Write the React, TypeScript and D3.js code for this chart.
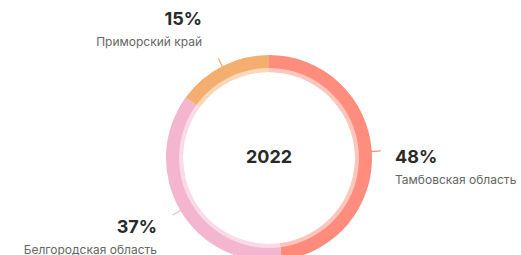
import React from 'react';
import * as d3 from 'd3';

const regions = ['Тамбовская область', 'Белгородская область', 'Приморский край'];
const shares = [48, 37, 15];
const sliceColors = ['url(#redGrad)', '#f4b5cf', '#f4ae6f'];
const tickColors = ['#fd8b7b', '#f4b5cf', '#f4ae6f'];
const centerLabel = '2022';

const W = 521;
const H = 255;
const cx = 269;
const cy = 158;
const outerR = 103;
const innerR = 86;

// label anchor spots, per slice (percent x/y, anchor)
const labelPos = [
  { x: 395, y: 163, anchor: 'start' },
  { x: 157, y: 233, anchor: 'end' },
  { x: 202, y: 25, anchor: 'end' },
];

const App = () => {
  const pie = d3.pie<number>().sort(null).value((d) => d);
  const arcs = pie(shares);
  const arc = d3.arc<d3.PieArcDatum<number>>().innerRadius(innerR).outerRadius(outerR);
  const glow = d3.arc<d3.PieArcDatum<number>>().innerRadius(innerR).outerRadius(innerR + 4);

  return (
    <svg width={W} height={H} style={{ position: 'absolute', left: 0, top: 0 }}>
      <defs>
        <linearGradient id="redGrad" gradientUnits="userSpaceOnUse" x1={0} y1={cy - outerR} x2={0} y2={cy + outerR}>
          <stop offset="0" stopColor="#fe8d7d" />
          <stop offset="0.55" stopColor="#fb8575" />
          <stop offset="1" stopColor="#e9655a" />
        </linearGradient>
      </defs>
      <rect width={W} height={H} fill="#fff" />
      <g transform={`translate(${cx},${cy})`}>
        {arcs.map((a, i) => (
          <path key={i} d={arc(a) || ''} fill={sliceColors[i]} />
        ))}
        {arcs.map((a, i) => (
          <path key={'g' + i} d={glow(a) || ''} fill="#fff" opacity={0.5} />
        ))}
        {arcs.map((a, i) => {
          const m = (a.startAngle + a.endAngle) / 2;
          const s = Math.sin(m);
          const c = -Math.cos(m);
          return (
            <line
              key={'t' + i}
              x1={s * (outerR - 1)}
              y1={c * (outerR - 1)}
              x2={s * (outerR + 9)}
              y2={c * (outerR + 9)}
              stroke={tickColors[i]}
              strokeWidth={1.2}
            />
          );
        })}
        <text
          x={0}
          y={5}
          textAnchor="middle"
          fontFamily="Inter, sans-serif"
          fontWeight={700}
          fontSize={18}
          fill="#2a2a2a"
        >
          {centerLabel}
        </text>
      </g>
      {arcs.map((a, i) => (
        <g key={'l' + i}>
          <text
            x={labelPos[i].x}
            y={labelPos[i].y}
            textAnchor={labelPos[i].anchor}
            fontFamily="Inter, sans-serif"
            fontWeight={700}
            fontSize={18}
            fill="#2a2a2a"
          >
            {shares[i]}%
          </text>
          <text
            x={labelPos[i].x}
            y={labelPos[i].y + 21}
            textAnchor={labelPos[i].anchor}
            fontFamily="Inter, sans-serif"
            fontSize={12}
            fill="#666"
          >
            {regions[i]}
          </text>
        </g>
      ))}
    </svg>
  );
};

export default App;
